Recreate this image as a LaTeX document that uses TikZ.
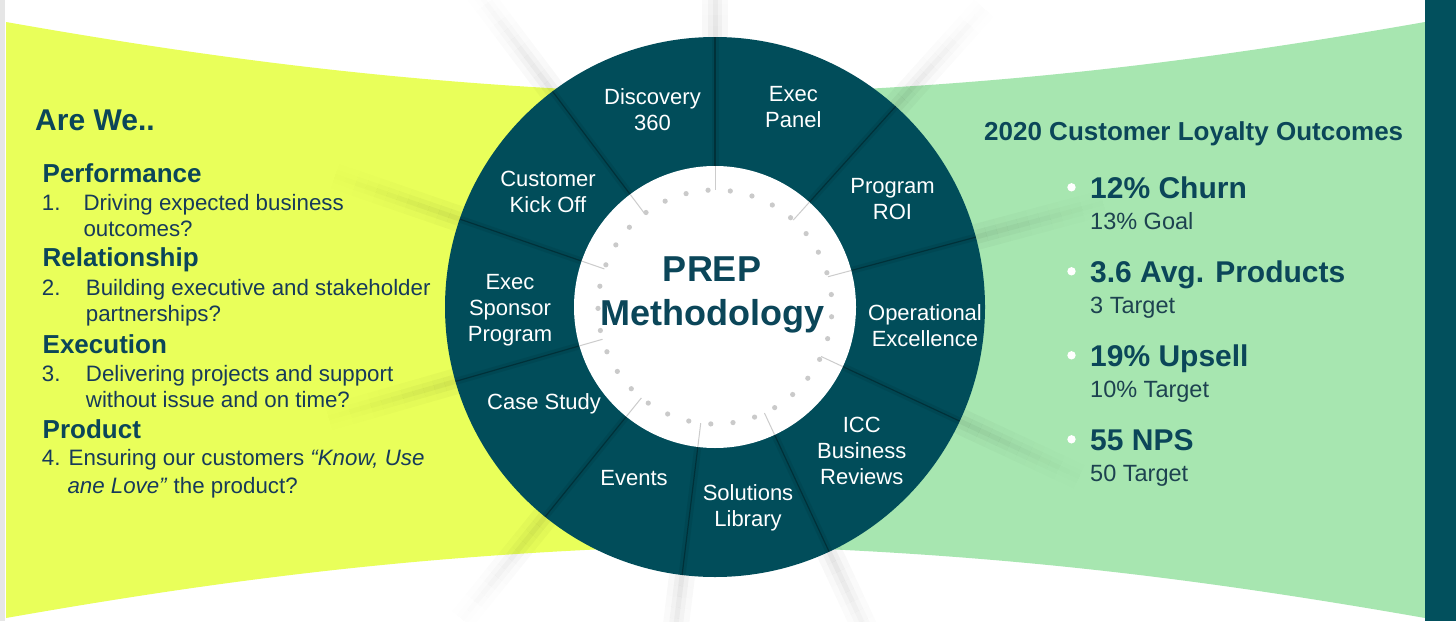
\documentclass[tikz,border=0pt]{standalone}
\usepackage{fontspec}
\setmainfont{Liberation Sans}
\usetikzlibrary{calc}
\definecolor{yelP}{HTML}{E9FF5A}
\definecolor{grnP}{HTML}{A7E6B0}
\definecolor{ringc}{HTML}{014D5A}
\definecolor{barc}{HTML}{02505D}
\definecolor{headc}{HTML}{0B4659}
\definecolor{bodyc}{HTML}{173A5A}
\definecolor{subc}{HTML}{1D4250}
\definecolor{dotc}{HTML}{CACACA}
\definecolor{edgec}{HTML}{E6E6E6}
\begin{document}
\begin{tikzpicture}[x=1pt,y=-1pt,
  seglabel/.style={text=white, align=center, inner sep=0pt, font=\fontsize{22}{26}\selectfont},
  lhead/.style={text=headc, anchor=base west, inner sep=0pt, font=\fontsize{26}{30}\selectfont\bfseries},
  lbody/.style={text=bodyc, anchor=base west, inner sep=0pt, font=\fontsize{22.3}{26}\selectfont},
  rstat/.style={text=headc, anchor=base west, inner sep=0pt, font=\fontsize{30}{34}\selectfont\bfseries},
  rsub/.style={text=subc, anchor=base west, inner sep=0pt, font=\fontsize{23.5}{27}\selectfont},
  bul/.style={fill=white}
]
\useasboundingbox (0,0) rectangle (1456,621);
\clip (0,0) rectangle (1456,621);
\fill[white] (0,0) rectangle (1456,621);
\fill[edgec] (0,0) rectangle (5,621);
% side panels
\fill[yelP] (6,22) .. controls (250,65) and (450,88) .. (715,95) -- (715,545)
  .. controls (450,552) and (250,575) .. (6,618) -- cycle;
\fill[grnP] (1425,22) .. controls (1180,65) and (980,88) .. (715,95) -- (715,545)
  .. controls (980,552) and (1180,575) .. (1425,618) -- cycle;
\fill[barc] (1425,0) rectangle (1456,621);

\coordinate (C) at (715,307);
\begin{scope}[shift={(C)}]
  % soft rays / shadows outside the ring
  \foreach \a in {-90,-48,-15,25,65,97,129,164,-161,-127}{
    \foreach \i in {0,...,11}{
      \pgfmathsetmacro\opa{0.028*(1-\i/12)}
      \pgfmathsetmacro\opb{0.035*(1-\i/12)}
      \pgfmathsetmacro\opc{0.04*(1-\i/12)}
      \pgfmathsetmacro\ra{270+11*\i}
      \pgfmathsetmacro\rb{281+11*\i}
      \draw[black, line width=26pt, draw opacity=\opa] (\a:\ra) -- (\a:\rb);
      \draw[black, line width=14pt, draw opacity=\opb] (\a:\ra) -- (\a:\rb);
      \draw[black, line width=5pt, draw opacity=\opc] (\a:\ra) -- (\a:\rb);
    }
  }
  % ring
  \fill[ringc] (0,0) circle (270pt);
  \foreach \a in {-90,-48,-15,25,65,97,129,164,-161,-127}{
    \draw[black, line width=7pt, draw opacity=0.07] (\a:141) -- (\a:270);
    \draw[black, line width=1.2pt, draw opacity=0.3] (\a:141) -- (\a:270);
  }
  \fill[white] (0,0) circle (141pt);
  \foreach \a in {-90,-48,-15,25,65,97,129,164,-161,-127}{
    \draw[gray!40, line width=1pt] (\a:141) -- (\a:117);
  }
  \foreach \k in {0,...,32}{
    \fill[dotc] ({-93.4+\k*360/33}:117) circle (2.6pt);
  }
\end{scope}

% segment labels
\node[seglabel] (disc) at (652.5,110) {Discovery\\360};
\node[seglabel] (epan) at (793.3,107.5) {Exec\\Panel};
\node[seglabel] (proi) at (892.5,199) {Program\\ROI};
\node[seglabel] (opex) at (925,326) {Operational\\Excellence};
\node[seglabel] (icc) at (861.7,451) {ICC\\Business\\Reviews};
\node[seglabel] (sol) at (748,507.5) {Solutions\\Library};
\node[seglabel] (evt) at (634,478) {Events};
\node[seglabel] (cst) at (544,404) {Case Study};
\node[seglabel] (esp) at (510,310.5) {Exec\\Sponsor\\Program};
\node[seglabel] (cko) at (548,192) {Customer\\Kick Off};

% center title
\node[text=headc, align=center, inner sep=0pt, font=\fontsize{36}{44}\selectfont\bfseries] (prep) at (712,295) {PREP\\Methodology};

% left panel
\node[lhead, font=\fontsize{30}{34}\selectfont\bfseries] (arewe) at (35,130) {Are We..};
\node[lhead] (perf) at (42.5,182.3) {Performance};
\node[lbody] (n1) at (41.7,210) {1.};
\node[lbody] (t1a) at (83.3,210) {Driving expected business};
\node[lbody] (t1b) at (83.3,236.7) {outcomes?};
\node[lhead] (rel) at (42.5,266.7) {Relationship};
\node[lbody] (n2) at (41.7,295) {2.};
\node[lbody] (t2a) at (85.7,295) {Building executive and stakeholder};
\node[lbody] (t2b) at (85.7,321.7) {partnerships?};
\node[lhead] (exe) at (42.5,353.3) {Execution};
\node[lbody] (n3) at (41.7,381) {3.};
\node[lbody] (t3a) at (85.7,381) {Delivering projects and support};
\node[lbody] (t3b) at (85.7,407.3) {without issue and on time?};
\node[lhead] (prod) at (42.5,438.3) {Product};
\node[lbody] (t4a) at (41.7,465.7) {4. Ensuring our customers \textit{“Know, Use}};
\node[lbody] (t4b) at (67.3,493.3) {\textit{ane Love”} the product?};

% right panel
\node[lhead] (rtitle) at (984,140) {2020 Customer Loyalty Outcomes};
\foreach \y in {187.3,271.3,355.3,439.3}{ \fill[bul] (1071.5,\y) circle (4.2pt); }
\node[rstat] (s1) at (1090,198) {12\% Churn};
\node[rsub] (g1) at (1090,229.5) {13\% Goal};
\node[rstat] (s2) at (1090,282) {3.6 Avg. Products};
\node[rsub] (g2) at (1090,313) {3 Target};
\node[rstat] (s3) at (1090,366) {19\% Upsell};
\node[rsub] (g3) at (1090,397) {10\% Target};
\node[rstat] (s4) at (1090,450) {55 NPS};
\node[rsub] (g4) at (1090,481) {50 Target};
\end{tikzpicture}
\end{document}
